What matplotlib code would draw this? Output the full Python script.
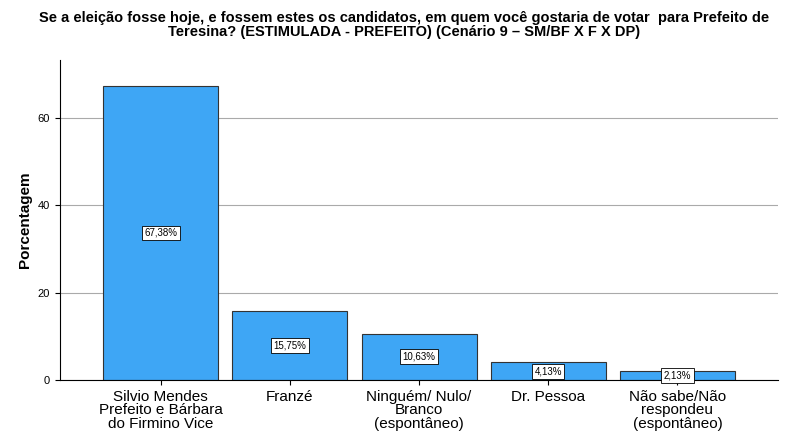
import matplotlib.pyplot as plt

plt.rcParams["font.family"] = "Liberation Sans"

categorias = ["Silvio Mendes\nPrefeito e Bárbara\ndo Firmino Vice", "Franzé",
              "Ninguém/ Nulo/\nBranco\n(espontâneo)", "Dr. Pessoa",
              "Não sabe/Não\nrespondeu\n(espontâneo)"]
valores = [67.38, 15.75, 10.63, 4.13, 2.13]
rotulos = ["67,38%", "15,75%", "10,63%", "4,13%", "2,13%"]

fig = plt.figure(figsize=(8.09, 4.41), dpi=100)
ax = fig.add_axes([0.074, 0.138, 0.888, 0.726])
x = range(len(valores))
ax.bar(x, valores, width=0.89, color="#3ea6f5", edgecolor="#333333", linewidth=0.8, zorder=2)
for i, v in enumerate(valores):
    ax.text(i, v / 2, rotulos[i], ha="center", va="center", fontsize=7, zorder=3,
            bbox=dict(boxstyle="square,pad=0.25", fc="white", ec="black", lw=0.6))
ax.set_xlim(-0.78, 4.78)
ax.set_ylim(0, 73.3)
ax.set_yticks([0, 20, 40, 60])
ax.yaxis.grid(True, color="#aaaaaa", linewidth=0.8, zorder=0)
ax.set_xticks(list(x))
ax.set_xticklabels(categorias, fontsize=11, linespacing=0.95)
ax.tick_params(axis="y", labelsize=8)
ax.set_ylabel("Porcentagem", fontsize=11, fontweight="bold")
for s in ["top", "right"]:
    ax.spines[s].set_visible(False)
fig.suptitle("Se a eleição fosse hoje, e fossem estes os candidatos, em quem você gostaria de votar  para Prefeito de\n"
             "Teresina? (ESTIMULADA - PREFEITO) (Cenário 9 – SM/BF X F X DP)",
             fontsize=10.5, fontweight="bold", y=0.975, linespacing=1.0)
fig.savefig("out.png")
